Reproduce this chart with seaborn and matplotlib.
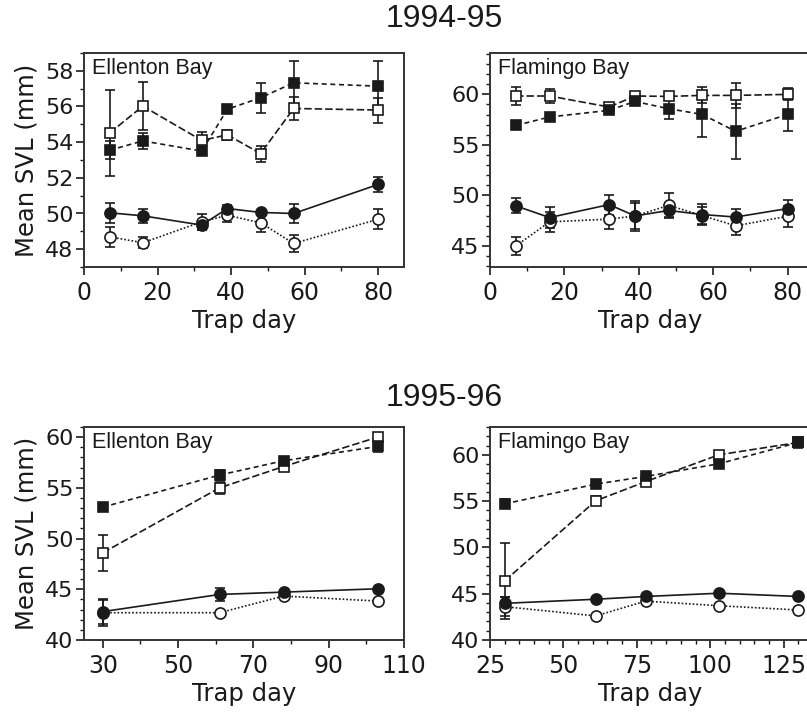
import matplotlib
matplotlib.use("Agg")
import matplotlib.pyplot as plt
import seaborn as sns
from matplotlib.ticker import MultipleLocator

# 1994-95, Ellenton Bay
eb94_day = [7, 16, 32, 39, 48, 57, 80]
eb94_fsq = [53.55, 54.07, 53.5, 55.85, 56.49, 57.33, 57.14]
eb94_fsq_err = [0.5, 0.45, 0.2, 0.15, 0.83, 1.2, 1.4]
eb94_osq = [54.52, 56.02, 54.1, 54.41, 53.36, 55.89, 55.8]
eb94_osq_err = [2.4, 1.36, 0.45, 0.3, 0.45, 0.65, 0.7]
eb94_fci = [50.04, 49.87, 49.35, 50.28, 50.06, 50.0, 51.63]
eb94_fci_err = [0.55, 0.4, 0.25, 0.2, 0.15, 0.55, 0.4]
eb94_oci = [48.69, 48.36, 49.53, 49.9, 49.48, 48.32, 49.68]
eb94_oci_err = [0.55, 0.3, 0.45, 0.4, 0.5, 0.5, 0.55]

# 1994-95, Flamingo Bay
fb94_day = [7, 16, 32, 39, 48, 57, 66, 80]
fb94_fsq = [56.93, 57.76, 58.42, 59.3, 58.58, 58.02, 56.34, 58.02]
fb94_fsq_err = [0.2, 0.2, 0.2, 0.2, 1.0, 2.2, 2.7, 1.65]
fb94_osq = [59.84, 59.84, 58.75, 59.84, 59.8, 59.9, 59.9, 60.0]
fb94_osq_err = [0.9, 0.7, 0.2, 0.2, 0.3, 0.8, 1.25, 0.6]
fb94_fci = [48.95, 47.8, 49.08, 47.96, 48.5, 48.1, 47.85, 48.69]
fb94_fci_err = [0.75, 1.05, 1.0, 1.45, 0.6, 1.0, 0.75, 0.8]
fb94_oci = [45.0, 47.37, 47.64, 47.96, 49.0, 48.0, 46.98, 47.93]
fb94_oci_err = [0.9, 1.0, 1.0, 1.3, 1.2, 0.8, 0.9, 1.05]

# 1995-96, Ellenton Bay
eb95_day = [30, 61, 78, 103]
eb95_fsq = [53.1, 56.26, 57.67, 59.08]
eb95_fsq_err = [0.3, 0.5, 0.3, 0.5]
eb95_osq = [48.6, 55.0, 57.1, 60.0]
eb95_osq_err = [1.8, 0.6, 0.2, 0.3]
eb95_fci = [42.8, 44.49, 44.72, 45.05]
eb95_fci_err = [1.2, 0.6, 0.2, 0.2]
eb95_oci = [42.69, 42.69, 44.33, 43.84]
eb95_oci_err = [1.3, 0.2, 0.2, 0.2]

# 1995-96, Flamingo Bay
fb95_day = [30, 61, 78, 103, 130]
fb95_fsq = [54.7, 56.83, 57.66, 59.03, 61.33]
fb95_fsq_err = [0.5, 0.3, 0.3, 0.4, 0.6]
fb95_osq = [46.38, 55.03, 57.1, 60.0, 61.33]
fb95_osq_err = [4.1, 0.5, 0.2, 0.3, 0.3]
fb95_fci = [43.96, 44.4, 44.7, 45.05, 44.7]
fb95_fci_err = [0.7, 0.2, 0.2, 0.2, 0.2]
fb95_oci = [43.6, 42.6, 44.2, 43.7, 43.24]
fb95_oci_err = [1.0, 0.2, 0.2, 0.2, 0.2]

sns.set_style("ticks")
plt.rcParams["font.family"] = ["Liberation Sans", "DejaVu Sans"]

W, H = 807, 712
fig = plt.figure(figsize=(W / 100, H / 100), dpi=100)


def add_ax(left, top, width=320, height=214):
    return fig.add_axes([left / W, 1 - (top + height) / H, width / W, height / H])


# marker / line style per series: (marker, filled, linestyle)
styles = {
    "fsq": ("s", True, (0, (3.0, 2.2))),
    "osq": ("s", False, (0, (4.5, 1.8))),
    "fci": ("o", True, "-"),
    "oci": ("o", False, (0, (1.0, 1.2))),
}
ink = "#1a1a1a"


def draw_panel(ax, day, series, name):
    for key, (vals, err) in series.items():
        marker, filled, ls = styles[key]
        ax.errorbar(day, vals, yerr=err, fmt="none", ecolor=ink, elinewidth=1.2,
                    capsize=3.5, capthick=1.2, zorder=2)
        sns.lineplot(x=day, y=vals, ax=ax, color=ink, linestyle=ls, linewidth=1.2,
                     marker=marker, markersize=8 if marker == "o" else 7.5,
                     markerfacecolor=ink if filled else "white",
                     markeredgecolor=ink, markeredgewidth=1.2, zorder=3)
    ax.text(0.025, 0.975, name, transform=ax.transAxes, ha="left", va="top",
            fontsize=15.5, color=ink)


def style_ax(ax, xlim, ylim, xmaj, xmin, ymaj, ymin, xticks, ylabel):
    ax.set_xlim(*xlim)
    ax.set_ylim(*ylim)
    ax.xaxis.set_major_locator(MultipleLocator(xmaj))
    ax.xaxis.set_minor_locator(MultipleLocator(xmin))
    ax.yaxis.set_major_locator(MultipleLocator(ymaj))
    ax.yaxis.set_minor_locator(MultipleLocator(ymin))
    if xticks is not None:
        ax.set_xticks(xticks)
    ax.tick_params(which="major", direction="out", length=5.5, width=1.2,
                   colors=ink)
    ax.tick_params(axis="x", pad=4.5)
    ax.tick_params(axis="y", pad=2)
    ax.tick_params(which="minor", direction="out", length=3, width=1.0, colors=ink)
    for lab in ax.get_xticklabels():
        lab.set_fontfamily("DejaVu Sans")
        lab.set_fontsize(17)
    for lab in ax.get_yticklabels():
        lab.set_fontfamily("DejaVu Sans")
        lab.set_fontsize(16)
    for s in ax.spines.values():
        s.set_linewidth(1.4)
        s.set_color("#333333")
    ax.set_xlabel("Trap day", fontsize=17.5, color=ink, labelpad=3,
                  family="DejaVu Sans")
    if ylabel:
        ax.set_ylabel("Mean SVL (mm)", fontsize=17.5, color=ink, labelpad=5,
                      family="DejaVu Sans")
    else:
        ax.set_ylabel("")
    ax.grid(False)


ax1 = add_ax(84, 53)
draw_panel(ax1, eb94_day, {"osq": (eb94_osq, eb94_osq_err), "fsq": (eb94_fsq, eb94_fsq_err),
                           "oci": (eb94_oci, eb94_oci_err), "fci": (eb94_fci, eb94_fci_err)},
           "Ellenton Bay")
style_ax(ax1, (0, 87), (47, 59), 20, 10, 2, 1, None, True)

ax2 = add_ax(490, 53)
draw_panel(ax2, fb94_day, {"osq": (fb94_osq, fb94_osq_err), "fsq": (fb94_fsq, fb94_fsq_err),
                           "oci": (fb94_oci, fb94_oci_err), "fci": (fb94_fci, fb94_fci_err)},
           "Flamingo Bay")
style_ax(ax2, (0, 86), (42.9, 64.1), 20, 10, 5, 1, None, False)

ax3 = add_ax(84, 427, height=213)
draw_panel(ax3, eb95_day, {"osq": (eb95_osq, eb95_osq_err), "fsq": (eb95_fsq, eb95_fsq_err),
                           "oci": (eb95_oci, eb95_oci_err), "fci": (eb95_fci, eb95_fci_err)},
           "Ellenton Bay")
style_ax(ax3, (25, 110), (40, 61), 20, 10, 5, 1, [30, 50, 70, 90, 110], True)

ax4 = add_ax(490, 427, height=213)
draw_panel(ax4, fb95_day, {"osq": (fb95_osq, fb95_osq_err), "fsq": (fb95_fsq, fb95_fsq_err),
                           "oci": (fb95_oci, fb95_oci_err), "fci": (fb95_fci, fb95_fci_err)},
           "Flamingo Bay")
style_ax(ax4, (25, 134), (40, 63), 25, 5, 5, 1, None, False)

title_font = ["Liberation Sans Narrow", "Liberation Sans", "DejaVu Sans"]
fig.text(444 / W, 1 - 19 / H, "1994-95", ha="center", va="center", fontsize=23,
         color=ink, family=title_font)
fig.text(444 / W, 1 - 398 / H, "1995-96", ha="center", va="center", fontsize=23,
         color=ink, family=title_font)

fig.savefig("out.png", dpi=100)
